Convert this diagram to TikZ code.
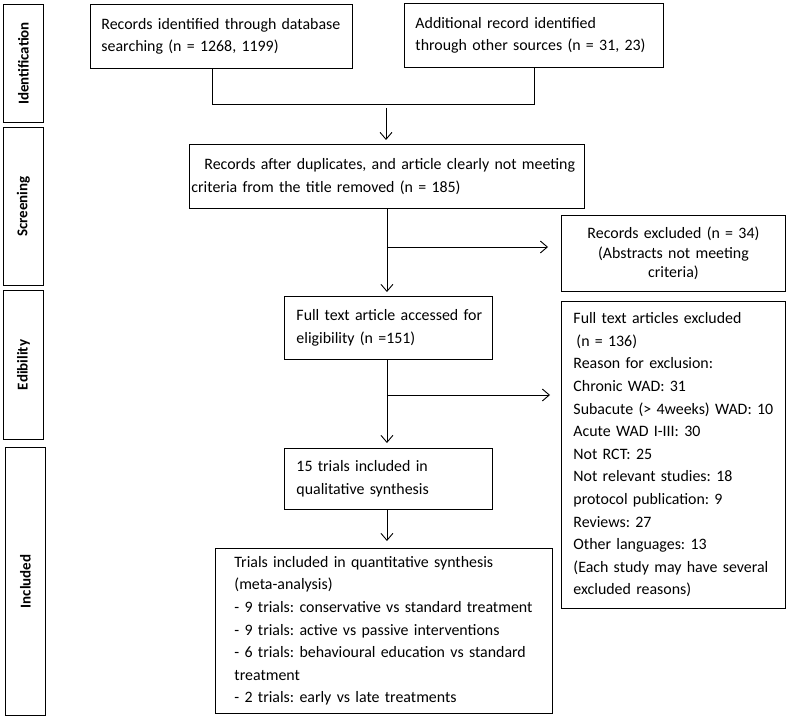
\documentclass[tikz,border=0pt]{standalone}
\usepackage{fontspec}
\setmainfont{Carlito}
\usetikzlibrary{arrows.meta}
\newcommand{\ml}[1]{\mbox{#1}}
\begin{document}
\frenchspacing
\begin{tikzpicture}[x=1pt,y=-1pt,
  every node/.style={font=\fontsize{15.9}{22.6}\selectfont},
  fbox/.style={draw, line width=0.9pt, rectangle, anchor=north west, inner ysep=0pt, align=left},
  side/.style={draw, line width=0.9pt, rectangle, anchor=north west, inner sep=0pt, minimum width=40pt},
  sidetext/.style={rotate=90, font=\fontsize{15}{18}\selectfont\bfseries},
  ln/.style={line width=0.9pt},
  arr/.style={line width=0.9pt, -{Straight Barb[length=7pt,width=12pt]}}]
\useasboundingbox (0,0) rectangle (788,727);
% side labels
\node[side, minimum height=118pt] (s1) at (3,4) {};
\node[sidetext] at (s1.center) {Identification};
\node[side, minimum height=158pt] (s2) at (3,127) {};
\node[sidetext] at (s2.center) {Screening};
\node[side, minimum height=149pt] (s3) at (3,290) {};
\node[sidetext] at (s3.center) {Edibility};
\node[side, minimum height=268pt] (s4) at (5,447) {};
\node[sidetext] at (s4.center) {Included};
% boxes
\node[fbox, text width=240pt, inner xsep=11pt, minimum height=64pt] (b1) at (90,4)
  {\ml{Records identified through database}\\\ml{searching (n = 1268, 1199)}};
\node[fbox, text width=237pt, inner xsep=11pt, minimum height=64pt] (b2) at (404,3)
  {\ml{Additional record identified}\\\ml{through other sources (n = 31, 23)}};
\node[fbox, text width=391pt, inner xsep=2pt, minimum height=64pt] (b3) at (189,144)
  {\hspace*{13pt}\ml{Records after duplicates, and article clearly not meeting}\\\ml{criteria from the title removed (n = 185)}};
\node[fbox, text width=204pt, inner xsep=10pt, minimum height=76pt, align=center,
  font=\fontsize{15.9}{19.5}\selectfont] (b5) at (561,215)
  {\ml{Records excluded (n = 34)}\\\ml{(Abstracts not meeting}\\\ml{criteria)}};
\node[fbox, text width=184pt, inner xsep=12pt, minimum height=63pt] (b4) at (284,296)
  {\ml{Full text article accessed for}\\\ml{eligibility (n =151)}};
\node[fbox, text width=200pt, inner xsep=12pt, minimum height=307pt] (b6) at (561,301)
  {\ml{Full text articles excluded}\\\hspace*{3pt}\ml{(n = 136)}\\\ml{Reason for exclusion:}\\\ml{Chronic WAD: 31}\\\ml{Subacute (> 4weeks) WAD: 10}\\\ml{Acute WAD I-III: 30}\\\ml{Not RCT: 25}\\\ml{Not relevant studies: 18}\\\ml{protocol publication: 9}\\\ml{Reviews: 27}\\\ml{Other languages: 13}\\\ml{(Each study may have several}\\\ml{excluded reasons)}};
\node[fbox, text width=184pt, inner xsep=12pt, minimum height=61pt] (b7) at (284,448)
  {\ml{15 trials included in}\\\ml{qualitative synthesis}};
\node[fbox, text width=299pt, inner xsep=19pt, minimum height=165pt] (b8) at (215,548)
  {\ml{Trials included in quantitative synthesis}\\\ml{(meta-analysis)}\\\ml{- 9 trials: conservative vs standard treatment}\\\ml{- 9 trials: active vs passive interventions}\\\ml{- 6 trials: behavioural education vs standard}\\\ml{treatment}\\\ml{- 2 trials: early vs late treatments}};
% connectors
\coordinate (j1) at (212,104);
\coordinate (j2) at (b2.south |- j1);
\coordinate (a0) at (386,108);
\draw[ln] (b1.south -| j1) -- (j1) -- (j2) -- (b2.south);
\draw[arr, shorten >=4pt] (a0) -- (a0 |- b3.north);
\coordinate (k1) at (b3.south |- 0,247);
\coordinate (e1) at (548,247);
\draw[arr, shorten >=4pt] (b3.south) -- (b3.south |- b4.north);
\draw[arr] (k1) -- (e1);
\coordinate (k2) at (b3.south |- 0,395);
\coordinate (e2) at (550,395);
\draw[arr, shorten >=5pt] (b3.south |- b4.south) -- (b3.south |- b7.north);
\draw[arr] (k2) -- (e2);
\draw[arr, shorten >=7pt] (b3.south |- b7.south) -- (b3.south |- b8.north);
\end{tikzpicture}
\end{document}
